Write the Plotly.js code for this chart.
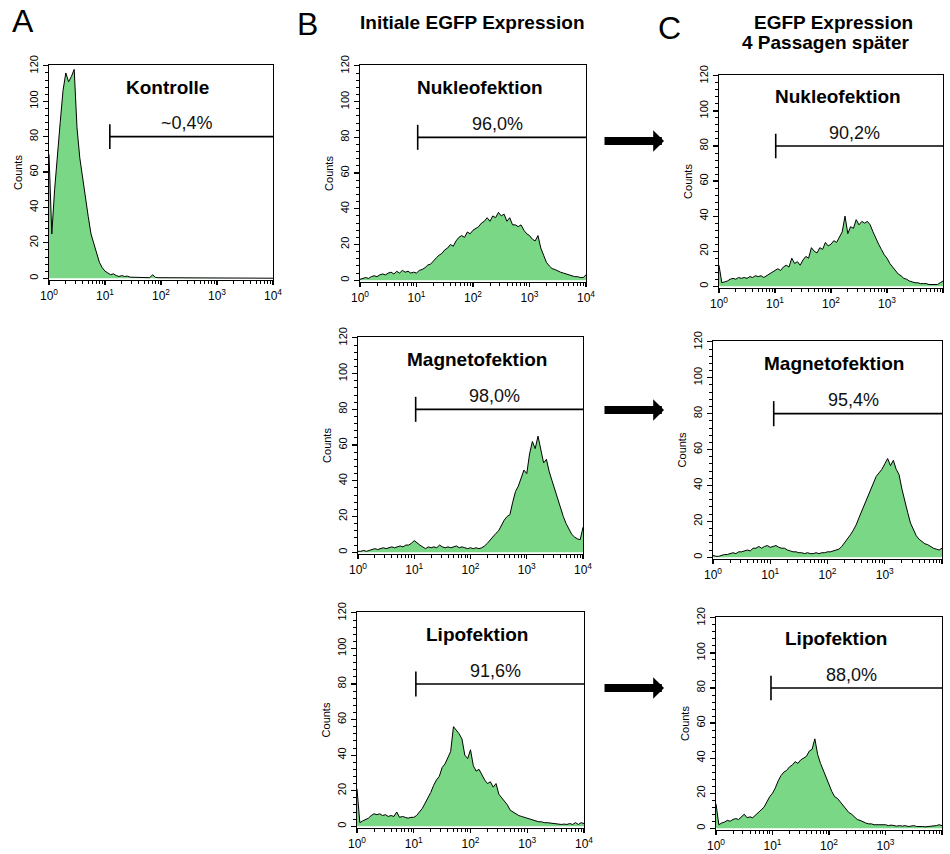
<!DOCTYPE html>
<html>
<head>
<meta charset="utf-8">
<script src="https://cdn.plot.ly/plotly-3.0.1.min.js"></script>
<style>html,body{margin:0;padding:0;background:#fff;}#chart{width:950px;height:854px;}</style>
</head>
<body>
<div id="chart"></div>
<script>
// ---------- DATA ----------
// fluorescence channels (log scale, 10^0 .. 10^4)
const channels = [1,1.122,1.259,1.413,1.585,1.778,1.995,2.239,2.512,2.818,
  3.162,3.548,3.981,4.467,5.012,5.623,6.31,7.079,7.943,8.913,
  10,11.22,12.59,14.13,15.85,17.78,19.95,22.39,25.12,28.18,
  31.62,35.48,39.81,44.67,50.12,56.23,63.1,70.79,79.43,89.13,
  100,112.2,125.9,141.3,158.5,177.8,199.5,223.9,251.2,281.8,
  316.2,354.8,398.1,446.7,501.2,562.3,631,707.9,794.3,891.3,
  1000,1122,1259,1413,1585,1778,1995,2239,2512,2818,
  3162,3548,3981,4467,5012,5623,6310,7079,7943,8913,
  10000];

const countsKontrolle = [70,25,50,72,88,106,116,111,114,118,
  85,68,56,47,35,25,20,14,9,6,
  4,3,2,2.5,1.5,1,1.5,1,1.2,0.6,
  0.5,0.8,0.4,0.5,0.3,0.4,0.3,2,0.5,0.3,
  0.3,0.2,0.3,0.2,0.1,0.2,0,0,0,0,
  0,0,0,0,0,0,0,0,0,0,
  0,0,0,0,0,0,0,0,0,0,
  0,0,0,0,0,0,0,0,0,0,
  0];
const countsNukleoInit = [0.5,1,1.5,1,2,2.5,2,3,3.5,3,
  4,4.5,3.5,5,4,5.5,4.5,5,4,4.5,
  4,5.5,6,7,8.5,9,11,12.5,14,15,
  17,18,20,19,22,24,25,24,27,26,
  28,29,30,32,33,35,33,36,35,38,
  36,37,33,35,31,31,30,31,28,26,
  25,23,22,25,18,14,10,8,6.5,6,
  5,4.5,4,3.5,3,2.5,2,2,1.5,1.5,
  3];
const countsNukleoLater = [12,2,2.5,3,4,4.5,4,5,4.5,5,
  4.5,5.5,5,6,5.5,6,5,6,6.5,8,
  8.5,10,9,11,12,11,16,13,14,12,
  15,17,16,22,20,19,22,21,25,23,
  24,26,25,28,31,40,30,34,33,38,
  35,37,36,37,35,31,27,24,21,18,
  16,13,11,9,7,6,4.5,4,3,2.5,
  2,2,1.5,1.5,1.5,1,1,1,1,2,
  3];
const countsMagnetoInit = [0.5,0.5,1,0.5,1,1.5,2,1.5,2,2.5,
  2,2.5,3,2.5,3,3.5,3,4,4,5,
  6.5,5,4,3,2,3,2.5,3,2.5,4,
  3,2.5,3,2.5,3,3.5,2.5,3,2.5,2,
  2.5,2,2.5,2,2.5,3.5,5,7,9,10.5,
  12,15,18,20,21,28,34,37,42,46,
  44,55,62,58,65,57,50,52,45,40,
  35,29,24,20,16,13,10,8.5,7.5,7,
  14];
const countsMagnetoLater = [1,0.5,0.5,1,1.5,1.5,2,2.5,2,3,
  3,3.5,4,3.5,5,5,6,5,6,6.5,
  5.5,6,6.5,5.5,5,5,4,3.5,3,3,
  2.5,2.5,2,2.5,2,2,2.5,2,2.5,2.5,
  3,3,3.5,4,4.5,6,8,10,12.5,15,
  18,22,26,30,33,38,41,45,47,49,
  52,55,51,54,49,46,38,31,25,19,
  15,12,10,8.5,7.5,7,6,5,4.5,4,
  5];
const countsLipoInit = [21,2,3,4,4.5,6,7,6.5,7,6,
  6.5,5.5,6,5.5,8,5,5.5,5,4.5,5,
  5,6,8,10,13,16,19,23,26,28,
  33,35,39,42,56,54,52,49,40,38,
  43,34,31,32,29,26,24,25,22,24,
  18,16,14,12,9,8,7,6,5.5,5,
  4.5,4,3.5,3,2.5,2.5,2,2,1.8,1.5,
  1.5,1.2,1,1.2,1,1.5,1,2,1,2,
  1.5];
const countsLipoLater = [14,2,3,3.5,4.5,4,5,5.5,5,6.5,
  8,6,6.5,6,7.5,9,11,12,15,18,
  20,23,27,30,32,33,35,36,38,37,
  39,40,41,44,45,51,42,37,33,28,
  24,21,18,17,15,13,11,9,8,6.5,
  5,4.5,3.5,3,2.5,2.5,2,2,2,1.8,
  2,1.5,1.8,1.5,1.2,1.5,1.2,1.5,1,1.2,
  1.5,1,1.2,1,0.8,1,1.2,1,1.5,2,
  1.5];

const panelNames = ['Kontrolle','Nukleofektion','Nukleofektion','Magnetofektion','Magnetofektion','Lipofektion','Lipofektion'];
const gateLabels = ['~0,4%','96,0%','90,2%','98,0%','95,4%','91,6%','88,0%'];
const gateStart = [12.2,10.5,10.3,10.6,11.5,10.9,9.4];
const gateEnd = 10000;
const gateLevel = 80;
const gateTickLow = 73, gateTickHigh = 87;

const xTickVals = [1,10,100,1000,10000];
const xTickText = ['10<sup>0</sup>','10<sup>1</sup>','10<sup>2</sup>','10<sup>3</sup>','10<sup>4</sup>'];
const xMinorTicks = [2,3,4,5,6,7,8,9,20,30,40,50,60,70,80,90,200,300,400,500,600,700,800,900,2000,3000,4000,5000,6000,7000,8000,9000];
const yTickVals = [0,20,40,60,80,100,120];

const headerB = 'Initiale EGFP Expression';
const headerC1 = 'EGFP Expression';
const headerC2 = '4 Passagen später';
const panelLetters = ['A','B','C'];

// ---------- LAYOUT CONFIG ----------
const series = [countsKontrolle,countsNukleoInit,countsNukleoLater,countsMagnetoInit,countsMagnetoLater,countsLipoInit,countsLipoLater];
const W = 950, H = 854;
// plot boxes in pixels: [left, right, top, bottom]
const boxes = [[49,273,65,280],[360,586,65,282],[719,943,75,288],[358,583,337,554],[713,942,341,559],[357,584,612,828],[716,942,617,830]];
const FONT = 'Liberation Sans, Arial, sans-serif';
const GREEN = '#7ad786';

const traces = [];
const layout = {
  width: W, height: H,
  margin: {l:0,r:0,t:0,b:0},
  paper_bgcolor: '#fff', plot_bgcolor: '#fff',
  showlegend: false,
  font: {family: FONT, color: '#000'},
  annotations: [], shapes: []
};

series.forEach((ys, k) => {
  const i = k + 1;
  const xa = 'x' + (i === 1 ? '' : i), ya = 'y' + (i === 1 ? '' : i);
  const b = boxes[k];
  traces.push({
    x: channels, y: ys, xaxis: xa, yaxis: ya, type: 'scatter', mode: 'lines',
    line: {color: '#000', width: 1}, fill: 'tozeroy', fillcolor: GREEN, hoverinfo: 'skip'
  });
  // gate marker
  traces.push({
    x: [gateStart[k], gateStart[k], null, gateStart[k], gateEnd],
    y: [gateTickLow, gateTickHigh, null, gateLevel, gateLevel],
    xaxis: xa, yaxis: ya, type: 'scatter', mode: 'lines',
    line: {color: '#000', width: 1.6}, hoverinfo: 'skip', cliponaxis: false
  });
  layout['xaxis' + (i === 1 ? '' : i)] = {
    domain: [b[0]/W, b[1]/W], anchor: ya, type: 'log', range: [0, 4],
    showline: true, linecolor: '#000', linewidth: 1.2, mirror: true,
    ticks: 'outside', ticklen: 4, tickwidth: 1.2, tickcolor: '#000',
    tickvals: xTickVals, ticktext: xTickText,
    tickfont: {family: FONT, size: 12, color: '#000'},
    minor: {tickmode: 'array', tickvals: xMinorTicks, ticks: 'outside', ticklen: 3, tickwidth: 1, tickcolor: '#000'},
    showgrid: false, zeroline: false, fixedrange: true
  };
  layout['yaxis' + (i === 1 ? '' : i)] = {
    domain: [1 - b[3]/H, 1 - b[2]/H], anchor: xa, range: [-1, 120.5],
    showline: true, linecolor: '#000', linewidth: 1.2, mirror: true,
    ticks: 'outside', ticklen: 5, tickwidth: 1.2, tickcolor: '#000',
    tickvals: yTickVals, tickangle: -90,
    tickfont: {family: FONT, size: 11, color: '#000'},
    minor: {tickmode: 'linear', tick0: 0, dtick: 4, ticks: 'outside', ticklen: 3, tickwidth: 1, tickcolor: '#000'},
    title: {text: 'Counts', font: {family: FONT, size: 11, color: '#000'}, standoff: 3},
    showgrid: false, zeroline: false, fixedrange: true
  };
  // panel title
  layout.annotations.push({
    xref: xa + ' domain', yref: ya, x: 0.53, y: 108, xanchor: 'center', yanchor: 'middle',
    text: '<b>' + panelNames[k] + '</b>', showarrow: false,
    font: {family: FONT, size: 19, color: '#000'}
  });
  // gate label
  layout.annotations.push({
    xref: xa, yref: ya, x: (Math.log10(gateStart[k]) + Math.log10(gateEnd)) / 2 - 0.08, y: 87.5,
    xanchor: 'center', yanchor: 'middle', text: gateLabels[k], showarrow: false,
    font: {family: FONT, size: 18, color: '#111'}
  });
});

// arrows between columns B and C
[141, 410, 688].forEach(py => {
  layout.annotations.push({
    xref: 'paper', yref: 'paper', x: 664/W, y: 1 - py/H, ax: -61, ay: 0,
    axref: 'pixel', ayref: 'pixel', text: '', showarrow: true,
    arrowhead: 1, arrowsize: 0.45, arrowwidth: 8, arrowcolor: '#000'
  });
});

// headers and letters
const hdr = (text, px, py, size, bold) => ({
  xref: 'paper', yref: 'paper', x: px/W, y: 1 - py/H, xanchor: 'center', yanchor: 'middle',
  text: bold ? '<b>' + text + '</b>' : text, showarrow: false,
  font: {family: FONT, size: size, color: '#000'}
});
layout.annotations.push(hdr(headerB, 472, 22, 19, true));
layout.annotations.push(hdr(headerC1, 833, 22, 19, true));
layout.annotations.push(hdr(headerC2, 825, 43, 19, true));
layout.annotations.push(hdr(panelLetters[0], 23, 21, 32, false));
layout.annotations.push(hdr(panelLetters[1], 307, 24, 32, false));
layout.annotations.push(hdr(panelLetters[2], 669, 28, 32, false));

Plotly.newPlot('chart', traces, layout, {staticPlot: true, displayModeBar: false});
</script>
</body>
</html>
